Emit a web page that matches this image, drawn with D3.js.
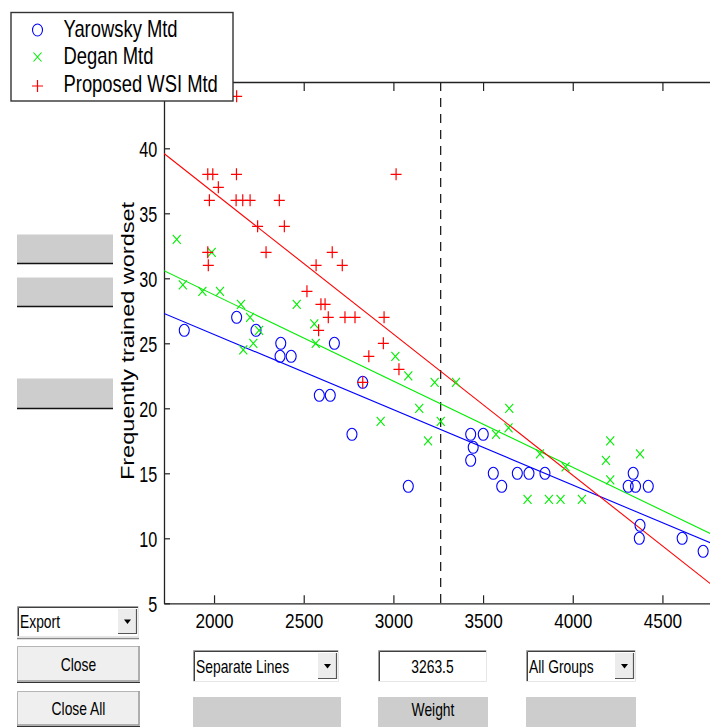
<!DOCTYPE html>
<html><head><meta charset="utf-8">
<script src="https://cdn.jsdelivr.net/npm/d3@7"></script>
<style>
html,body{margin:0;padding:0;background:#fff;}
svg{display:block;font-family:"Liberation Sans",Arial,sans-serif;}
</style></head><body>
<svg id="chart" width="710" height="727"></svg>
<script>
// ---------------- data ----------------
const groups = ["Yarowsky Mtd", "Degan Mtd", "Proposed WSI Mtd"];
const groupColors = ["#0000ff", "#00ee00", "#ff0000"];
const groupMarkers = ["circle", "x", "plus"];

const yarowskyX = [1834,2126,2234,2372,2368,2430,2671,2587,2648,2829,2769,3083,3431,3501,3445,3431,3557,3604,3691,3756,3845,4337,4309,4350,4421,4375,4371,4610,4727];
const yarowskyY = [26,27,26,25,24,24,25,21,21,22,18,14,18,18,17,16,15,14,15,15,15,15,14,14,14,11,10,10,9];

const deganX = [1792,1987,1826,1935,2033,2150,2201,2461,2559,2251,2219,2163,2567,3011,3083,3230,3144,2929,3193,3264,3349,3646,3642,3572,3817,3960,3748,3867,3932,4051,4209,4185,4209,4375];
const deganY = [33,32,29.5,29,29,28,27,28,26.5,26,25,24.5,25,24,22.5,22,20,19,17.5,19,22,20,18.5,18,16.5,15.5,13,13,13,13,17.5,16,14.5,16.5];

const proposedX = [2126,1965,1993,2125,3015,2024,1974,2123,2160,2201,2364,2243,2392,1965,2290,2659,1968,2569,2715,2518,2596,2619,2637,2730,2786,2948,2583,2944,2863,3031,2829];
const proposedY = [44,38,38,38,38,37,36,36,36,36,36,34,34,32,32,32,31,31,31,29,28,28,27,27,27,27,26,25,24,23,22];

// fitted lines (values read at the two x ends)
const fitX = [1721, 4821];
const yarowskyFit = [27.3, 9.34];
const deganFit = [30.58, 10.01];
const proposedFit = [39.6, 5.93];

const separatorX = 3263.5;
const xDomain = [1721, 4821];
const yDomain = [5, 45.1];
const xTicks = [2000, 2500, 3000, 3500, 4000, 4500];
const yTicks = [5, 10, 15, 20, 25, 30, 35, 40];
const yLabel = "Frequently trained wordset";

const seriesX = [yarowskyX, deganX, proposedX];
const seriesY = [yarowskyY, deganY, proposedY];
const seriesFit = [yarowskyFit, deganFit, proposedFit];

// ---------------- drawing ----------------
const svg = d3.select("#chart");
svg.append("rect").attr("width", 710).attr("height", 727).attr("fill", "#fff");

const plotL = 164, plotR = 720, plotT = 82, plotB = 603.3;
const x = d3.scaleLinear().domain(xDomain).range([plotL, plotR]);
const y = d3.scaleLinear().domain(yDomain).range([plotB, plotT]);

function ctext(parent, px, py, str, size, sx, anchor) {
  return parent.append("text")
    .attr("transform", `translate(${px},${py}) scale(${sx},1)`)
    .attr("text-anchor", anchor || "start")
    .attr("font-size", size)
    .attr("fill", "#000")
    .text(str);
}

svg.append("clipPath").attr("id", "clip")
  .append("rect").attr("x", plotL).attr("y", plotT).attr("width", plotR - plotL).attr("height", plotB - plotT);

// axes
const axB = svg.append("g").attr("transform", `translate(0,${plotB})`)
  .call(d3.axisBottom(x).tickValues(xTicks).tickSizeInner(-8).tickSizeOuter(0).tickPadding(11).tickFormat(d3.format("d")));
axB.selectAll("text").attr("font-size", 20).attr("font-family", "Liberation Sans, Arial, sans-serif")
  .attr("transform", "scale(0.86,1)");
const axT = svg.append("g").attr("transform", `translate(0,${plotT})`)
  .call(d3.axisTop(x).tickValues(xTicks).tickSizeInner(-9).tickSizeOuter(0).tickFormat(""));
const axL = svg.append("g").attr("transform", `translate(${plotL},0)`)
  .call(d3.axisLeft(y).tickValues(yTicks).tickSizeInner(-6).tickSizeOuter(0).tickFormat(d3.format("d")));
axL.selectAll("text").attr("font-size", 22.5).attr("font-family", "Liberation Sans, Arial, sans-serif")
  .attr("x", -6.7 / 0.72).attr("dy", "0.36em").attr("transform", "scale(0.72,1)");
[axB, axT, axL].forEach(a => {
  a.selectAll("path.domain").attr("stroke", "#222").attr("stroke-width", 1.3);
  a.selectAll("line").attr("stroke", "#222").attr("stroke-width", 1.2);
});

// y label
svg.append("text")
  .attr("transform", `translate(133.5,341) scale(0.75,1) rotate(-90)`)
  .attr("text-anchor", "middle").attr("font-size", 23.5).text(yLabel);

const plot = svg.append("g").attr("clip-path", "url(#clip)");

// separator dashed line
plot.append("line").attr("x1", x(separatorX)).attr("x2", x(separatorX))
  .attr("y1", plotT).attr("y2", plotB)
  .attr("stroke", "#222").attr("stroke-width", 1.3).attr("stroke-dasharray", "9,7");

// fitted lines
const lineGen = d3.line().x(d => x(d[0])).y(d => y(d[1]));
seriesFit.forEach((f, i) => {
  plot.append("path").datum(fitX.map((v, k) => [v, f[k]]))
    .attr("d", lineGen).attr("fill", "none")
    .attr("stroke", groupColors[i]).attr("stroke-width", 1.1);
});

function drawMarker(g, type, cx, cy, color) {
  if (type === "circle") {
    g.append("ellipse").attr("cx", cx).attr("cy", cy).attr("rx", 5).attr("ry", 6)
      .attr("fill", "none").attr("stroke", color).attr("stroke-width", 1.1);
  } else if (type === "plus") {
    g.append("path").attr("d", `M${cx - 5.5},${cy}H${cx + 5.5}M${cx},${cy - 6}V${cy + 6}`)
      .attr("stroke", color).attr("stroke-width", 1.2).attr("fill", "none");
  } else {
    g.append("path").attr("d", `M${cx - 4},${cy - 4.5}L${cx + 4},${cy + 4.5}M${cx - 4},${cy + 4.5}L${cx + 4},${cy - 4.5}`)
      .attr("stroke", color).attr("stroke-width", 1.1).attr("fill", "none");
  }
}

seriesX.forEach((xs, i) => {
  const g = plot.append("g");
  xs.forEach((v, k) => drawMarker(g, groupMarkers[i], x(v), y(seriesY[i][k]), groupColors[i]));
});

// legend
const leg = svg.append("g");
leg.append("rect").attr("x", 11).attr("y", 12.5).attr("width", 222).attr("height", 88.5)
  .attr("fill", "#fff").attr("stroke", "#333").attr("stroke-width", 1.4);
const legRowsY = [30, 57, 86];
const legBase = [37.3, 64.3, 91.7];
groups.forEach((name, i) => {
  drawMarker(leg, groupMarkers[i], 37.5, legRowsY[i], groupColors[i]);
  ctext(leg, 63.5, legBase[i], name, 23, 0.8, "start");
});

// ---------------- UI controls ----------------
const ui = svg.append("g").attr("font-family", "Liberation Sans, Arial, sans-serif");

function grayBox(bx, by, w, h, line) {
  ui.append("rect").attr("x", bx).attr("y", by).attr("width", w).attr("height", h).attr("fill", "#cdcdcd");
  if (line) ui.append("line").attr("x1", bx).attr("x2", bx + w).attr("y1", by + h).attr("y2", by + h)
    .attr("stroke", "#111").attr("stroke-width", 1.5);
}
function sunken(bx, by, w, h) {
  ui.append("rect").attr("x", bx).attr("y", by).attr("width", w).attr("height", h).attr("fill", "#fff");
  ui.append("path").attr("d", `M${bx + 0.5},${by + h}V${by + 0.5}H${bx + w}`).attr("stroke", "#a0a0a0").attr("stroke-width", 1).attr("fill", "none");
  ui.append("path").attr("d", `M${bx + 1.5},${by + h - 1}V${by + 1.5}H${bx + w - 1}`).attr("stroke", "#404040").attr("stroke-width", 1).attr("fill", "none");
  ui.append("path").attr("d", `M${bx},${by + h - 0.5}H${bx + w - 0.5}V${by}`).attr("stroke", "#e6e6e6").attr("stroke-width", 1).attr("fill", "none");
}
function popup(bx, by, w, h, label) {
  sunken(bx, by, w, h);
  const bw = 19, bh = h - 6, bxx = bx + w - bw - 2, byy = by + 3;
  ui.append("rect").attr("x", bxx).attr("y", byy).attr("width", bw).attr("height", bh).attr("fill", "#ececec");
  ui.append("path").attr("d", `M${bxx},${byy + bh - 0.5}H${bxx + bw - 0.5}V${byy}`).attr("stroke", "#555").attr("stroke-width", 1.2).attr("fill", "none");
  const cx = bxx + bw / 2, cy = by + h / 2;
  ui.append("path").attr("d", `M${cx - 3.5},${cy - 2}H${cx + 3.5}L${cx},${cy + 2.5}Z`).attr("fill", "#000");
  ctext(ui, bx + 3, by + h / 2 + 6.5, label, 18, 0.77, "start");
}
function button(bx, by, w, h, label) {
  ui.append("rect").attr("x", bx).attr("y", by).attr("width", w).attr("height", h).attr("fill", "#efefef");
  ui.append("path").attr("d", `M${bx + 0.5},${by + h}V${by + 0.5}H${bx + w}`).attr("stroke", "#b5b5b5").attr("stroke-width", 1).attr("fill", "none");
  ui.append("path").attr("d", `M${bx},${by + h - 1}H${bx + w - 1}V${by}`).attr("stroke", "#9a9a9a").attr("stroke-width", 1.5).attr("fill", "none");
  ui.append("line").attr("x1", bx).attr("x2", bx + w).attr("y1", by + h + 0.5).attr("y2", by + h + 0.5).attr("stroke", "#333").attr("stroke-width", 1.2);
  ctext(ui, bx + w / 2, by + h / 2 + 6.5, label, 18, 0.77, "middle");
}

grayBox(17, 234.5, 96, 29, true);
grayBox(17, 277.5, 96, 29, true);
grayBox(17, 378.5, 96, 30, true);

popup(17, 606, 122, 31, "Export");
ui.append("line").attr("x1", 17).attr("x2", 139).attr("y1", 638.5).attr("y2", 638.5).attr("stroke", "#888").attr("stroke-width", 1.5);
button(17, 646, 123, 36, "Close");
button(17, 691, 123, 35, "Close All");

popup(193, 650, 146, 32, "Separate Lines");
sunken(378, 650, 109, 32);
ctext(ui, 432.5, 672.5, "3263.5", 18, 0.77, "middle");
popup(526, 650, 110, 32, "All Groups");

grayBox(193, 697, 148, 30, false);
grayBox(378, 697, 110, 30, false);
ctext(ui, 433, 716, "Weight", 18, 0.77, "middle");
grayBox(526, 697, 110, 30, false);
</script>
</body></html>
